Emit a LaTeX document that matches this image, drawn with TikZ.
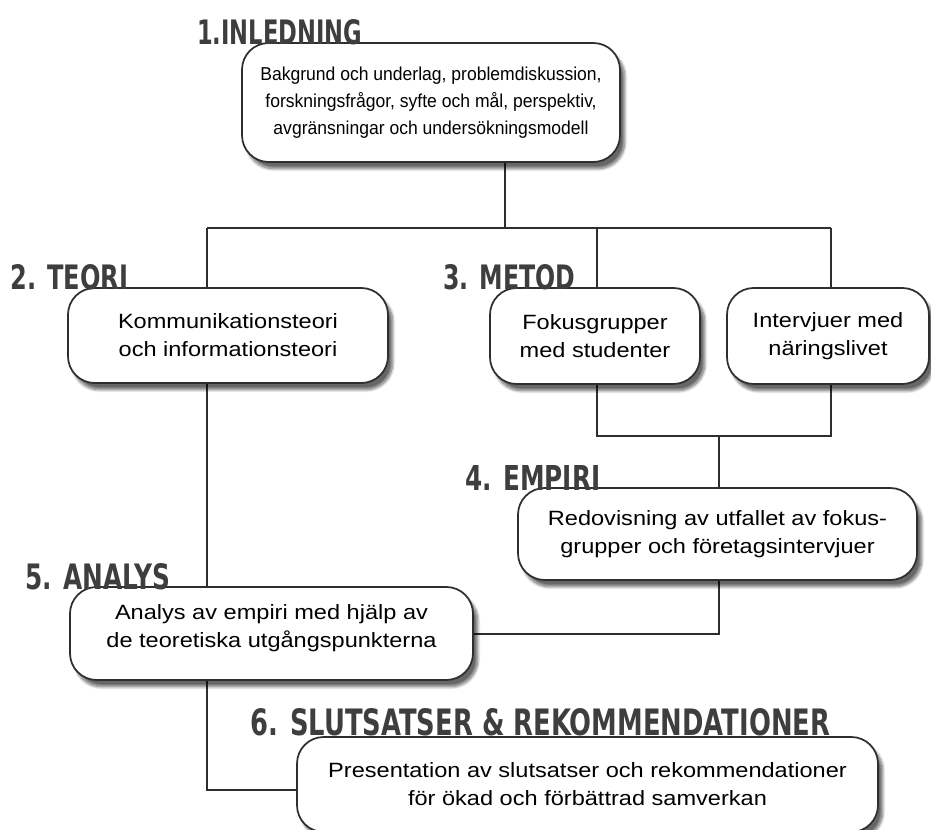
\documentclass[tikz,border=0pt]{standalone}
\usepackage{fontspec}
\setmainfont{Liberation Sans}
\newfontfamily\headfont{DejaVu Sans}
\newfontfamily\introfont{Liberation Sans}[FakeStretch=0.94]
\newfontfamily\boxfont{Liberation Sans}[FakeStretch=1.14]
\usepackage{graphicx}
\usetikzlibrary{shadows.blur}
\pgfdeclarelayer{background}
\pgfsetlayers{background,main}
\definecolor{headgray}{HTML}{3E3E3E}
\definecolor{linegray}{HTML}{2E2E2E}
\tikzset{
  box/.style={draw=linegray, line width=1.3pt, fill=white, rounded corners=20pt,
    align=center, font=\boxfont\fontsize{15.5}{21}\selectfont, inner sep=0pt,
    blur shadow={shadow xshift=3.5pt, shadow yshift=-5pt, shadow blur steps=10, shadow opacity=60}},
  conn/.style={draw=linegray, line width=1.2pt},
  head/.style={anchor=base west, inner sep=0pt, text=headgray}
}
\newcommand{\hd}[3]{\resizebox{\dimexpr #1pt*3/4\relax}{\dimexpr #2pt*3/4\relax}{\headfont\bfseries #3}}
\begin{document}
\begin{tikzpicture}[x=0.75pt,y=-0.75pt]
\useasboundingbox (0,0) rectangle (931,830);
% boxes
\node[box, minimum width=378*0.75pt, minimum height=119*0.75pt, font=\introfont\fontsize{14}{20.25}\selectfont] (intro) at (431,102.5)
  {Bakgrund och underlag, problemdiskussion,\\forskningsfrågor, syfte och mål, perspektiv,\\avgränsningar och undersökningsmodell};
\node[box, minimum width=320*0.75pt, minimum height=95*0.75pt] (teori) at (228,335.5)
  {Kommunikationsteori\\och informationsteori};
\node[box, minimum width=210*0.75pt, minimum height=96*0.75pt] (fokus) at (595,336)
  {Fokusgrupper\\med studenter};
\node[box, minimum width=202*0.75pt, minimum height=96*0.75pt] (interv) at (828,336)
  {Intervjuer med\\näringslivet};
\node[box, minimum width=399*0.75pt, minimum height=92*0.75pt] (empiri) at (717.5,534)
  {Redovisning av utfallet av fokus-\\grupper och företagsintervjuer};
\node[box, minimum width=403*0.75pt, minimum height=93*0.75pt] (analys) at (271.5,633.5)
  {Analys av empiri med hjälp av\\de teoretiska utgångspunkterna\\[-10.5pt]};
\node[box, minimum width=581*0.75pt, minimum height=95*0.75pt] (concl) at (587.5,784.5)
  {Presentation av slutsatser och rekommendationer\\för ökad och förbättrad samverkan};
% junctions
\coordinate (t) at (505,228);
\coordinate (jl) at (207,228);
\coordinate (jm) at (597,228);
\coordinate (jr) at (831,228);
\coordinate (b1) at (597,436);
\coordinate (b2) at (831,436);
\coordinate (b3) at (719,436);
\coordinate (b4) at (719,634);
\coordinate (c6) at (207,790);
\begin{pgfonlayer}{background}
\draw[conn] (intro.south -| t) -- (t);
\draw[conn] (jl) -- (jr);
\draw[conn] (jl) -- (jl |- teori.north);
\draw[conn] (teori.south -| jl) -- (analys.north -| jl);
\draw[conn] (analys.south -| jl) -- (c6) -- (c6 -| concl.west);
\draw[conn] (jm) -- (jm |- fokus.north);
\draw[conn] (jr) -- (jr |- interv.north);
\draw[conn] (fokus.south -| b1) -- (b1) -- (b2) -- (interv.south -| b2);
\draw[conn] (b3) -- (b3 |- empiri.north);
\draw[conn] (empiri.south -| b3) -- (b4) -- (b4 -| analys.east);
\end{pgfonlayer}
% headings
\node[head] (h1) at (197,45) {\hd{165}{25}{1.INLEDNING}};
\node[head] (h2) at (10,290) {\hd{118}{25}{2. TEORI}};
\node[head] (h3) at (443,290) {\hd{132}{25}{3. METOD}};
\node[head] (h4) at (465,490) {\hd{135}{25}{4. EMPIRI}};
\node[head] (h5) at (25,589) {\hd{145}{26}{5. ANALYS}};
\node[head] (h6) at (250,735) {\hd{580}{27}{6. SLUTSATSER \& REKOMMENDATIONER}};
\end{tikzpicture}
\end{document}
